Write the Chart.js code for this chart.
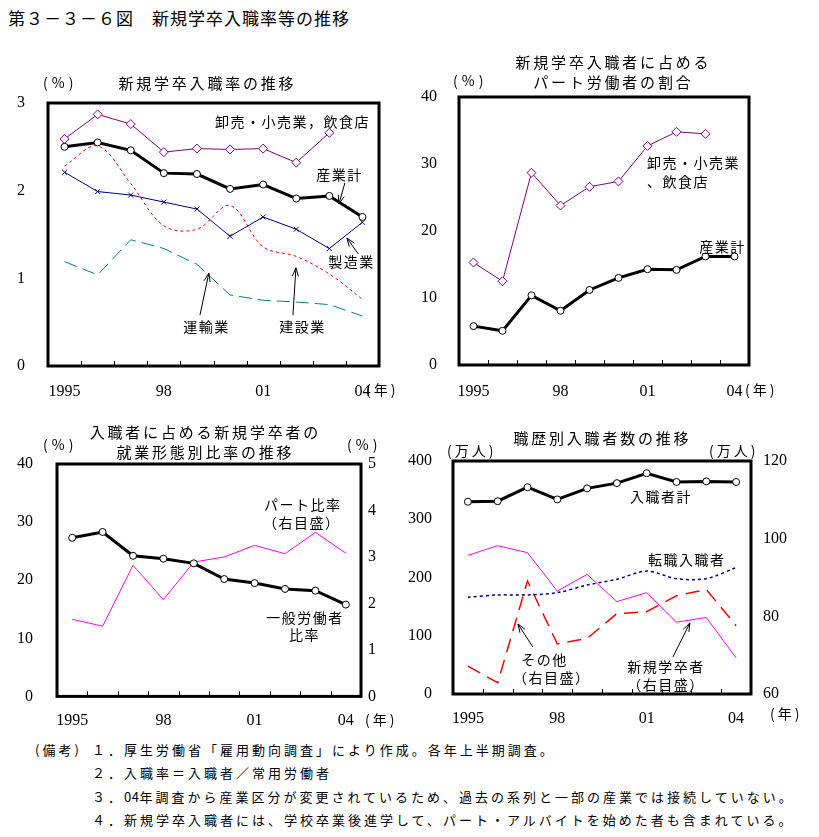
<!DOCTYPE html>
<html lang="ja">
<head>
<meta charset="utf-8">
<title>新規学卒入職率等の推移</title>
<script src="https://cdn.jsdelivr.net/npm/chart.js@4.4.1/dist/chart.umd.min.js"></script>
<style>
  body { margin: 0; background: #fff; }
  #page { position: relative; width: 819px; height: 837px; overflow: hidden; font-family: "Noto Sans CJK JP", sans-serif; color: #000; }
  canvas { position: absolute; }
  .t { position: absolute; white-space: nowrap; line-height: 1; }
  .c { transform: translateX(-50%); }
  .ttl { font-size: 15px; letter-spacing: 2.8px; padding-left: 2.8px; }
  .unit { font-size: 14px; letter-spacing: 3px; }
  .note { font-size: 13px; letter-spacing: 3px; }
  .tight { letter-spacing: 0.5px; }
</style>
</head>
<body>
<div id="page">
  <div class="t" style="left:8px;top:9px;font-size:17px;letter-spacing:1px">第３－３－６図　新規学卒入職率等の推移</div>

  <canvas id="c1" width="400" height="340" style="left:0;top:60px"></canvas>
  <canvas id="c2" width="419" height="350" style="left:400px;top:50px"></canvas>
  <canvas id="c3" width="400" height="320" style="left:0;top:410px"></canvas>
  <canvas id="c4" width="419" height="310" style="left:400px;top:420px"></canvas>

  <div class="t ttl c" style="left:206px;top:75px">新規学卒入職率の推移</div>
  <div class="t unit" style="left:43px;top:75px;letter-spacing:4px">(%)</div>
  <div class="t unit" style="left:366px;top:382px">(年)</div>

  <div class="t ttl c" style="left:612px;top:54px">新規学卒入職者に占める</div>
  <div class="t ttl c" style="left:612px;top:74px">パート労働者の割合</div>
  <div class="t unit" style="left:453px;top:73px;letter-spacing:4px">(%)</div>
  <div class="t unit" style="left:745px;top:382px">(年)</div>

  <div class="t ttl c" style="left:204px;top:424px">入職者に占める新規学卒者の</div>
  <div class="t ttl c" style="left:204px;top:444px">就業形態別比率の推移</div>
  <div class="t unit" style="left:43px;top:437px;letter-spacing:4px">(%)</div>
  <div class="t unit" style="left:347px;top:437px;letter-spacing:4px">(%)</div>
  <div class="t unit" style="left:365px;top:712px">(年)</div>

  <div class="t ttl c" style="left:601px;top:430px">職歴別入職者数の推移</div>
  <div class="t unit" style="left:447px;top:443px">(万人)</div>
  <div class="t unit" style="left:709px;top:443px">(万人)</div>
  <div class="t unit" style="left:770px;top:706px">(年)</div>

  <div class="t note" style="left:35px;top:743px">(備考)</div>
  <div class="t note" style="left:92px;top:743px">１．厚生労働省「雇用動向調査」により作成。各年上半期調査。</div>
  <div class="t note" style="left:92px;top:766px">２．入職率＝入職者／常用労働者</div>
  <div class="t note" style="left:92px;top:790px">３．<span class="tight">04</span>年調査から産業区分が変更されているため、過去の系列と一部の産業では接続していない。</div>
  <div class="t note" style="left:92px;top:813px">４．新規学卒入職者には、学校卒業後進学して、パート・アルバイトを始めた者も含まれている。</div>
</div>

<script>
// categories (1995-2004) and the tick labels that are printed
const years = ['1995', '1996', '1997', '1998', '1999', '2000', '2001', '2002', '2003', '2004'];
const tickLabels = ['1995', '', '', '98', '', '', '01', '', '', '04'];

// 新規学卒入職率の推移 (%)
const rateTotal     = [2.50, 2.55, 2.46, 2.20, 2.19, 2.02, 2.07, 1.91, 1.94, 1.70];
const rateTrade     = [2.59, 2.87, 2.76, 2.44, 2.48, 2.47, 2.48, 2.32, 2.66, null];
const rateMfg       = [2.21, 1.99, 1.95, 1.87, 1.79, 1.48, 1.70, 1.56, 1.34, 1.64];
const rateConst     = [2.28, 2.51, 2.08, 1.60, 1.56, 1.83, 1.36, 1.25, 1.05, 0.76];
const rateTransport = [1.19, 1.04, 1.44, 1.34, 1.16, 0.81, 0.75, 0.73, 0.70, 0.57];

// 新規学卒入職者に占めるパート労働者の割合 (%)
const partTotal = [5.8, 5.1, 10.4, 8.1, 11.2, 13.0, 14.3, 14.2, 16.2, 16.2];
const partTrade = [15.3, 12.5, 28.7, 23.8, 26.6, 27.4, 32.7, 34.8, 34.5, null];

// 入職者に占める新規学卒者の就業形態別比率 (%)
const generalShare = [27.3, 28.3, 24.2, 23.7, 22.9, 20.2, 19.5, 18.5, 18.2, 15.8];
const partShare    = [1.66, 1.51, 2.82, 2.08, 2.89, 3.00, 3.25, 3.07, 3.53, 3.08];

// 職歴別入職者数 (万人)
const hiresTotal  = [330, 331, 355, 334, 353, 362, 379, 364, 365, 364];
const jobChangers = [166, 170, 170, 174, 187, 197, 211, 198, 198, 217];
const newGrads    = [95.7, 98.2, 96.4, 86.5, 90.8, 83.8, 86.1, 78.5, 79.7, 69.3];
const others      = [67.2, 62.9, 89.1, 72.9, 74.3, 80.7, 81.2, 85.3, 86.9, 77.6];

const serif = '"Liberation Serif", "Times New Roman", serif';
Chart.defaults.font.family = serif;
Chart.defaults.font.size = 16;
Chart.defaults.color = '#000';
Chart.defaults.animation = false;

function drawArrow(ctx, x1, y1, x2, y2) {
  const ang = Math.atan2(y2 - y1, x2 - x1), h = 9;
  ctx.beginPath();
  ctx.moveTo(x1, y1);
  ctx.lineTo(x2, y2);
  ctx.moveTo(x2 - h * Math.cos(ang - 0.35), y2 - h * Math.sin(ang - 0.35));
  ctx.lineTo(x2, y2);
  ctx.lineTo(x2 - h * Math.cos(ang + 0.35), y2 - h * Math.sin(ang + 0.35));
  ctx.stroke();
}

// frame, small inner ticks and the labels / arrows placed in data space
const decor = {
  id: 'decor',
  afterDatasetsDraw(chart, args, opts) {
    const { ctx, chartArea: a, scales } = chart;
    const x = scales.x;
    ctx.save();
    ctx.strokeStyle = '#000';
    ctx.lineWidth = 1;
    for (let i = 1; i < years.length; i++) {
      const px = Math.round((x.getPixelForValue(i - 1) + x.getPixelForValue(i)) / 2) + 0.5;
      ctx.beginPath();
      ctx.moveTo(px, a.bottom);
      ctx.lineTo(px, a.bottom - 5);
      ctx.stroke();
    }
    ctx.lineWidth = 3;
    ctx.strokeRect(a.left, a.top, a.right - a.left, a.bottom - a.top);

    ctx.fillStyle = '#000';
    ctx.font = '14px "Noto Sans CJK JP"';
    ctx.textBaseline = 'middle';
    ctx.letterSpacing = '1.5px';
    (opts.labels || []).forEach(l => {
      ctx.textAlign = l.align || 'center';
      ctx.fillText(l.text, x.getPixelForValue(l.x), scales.y.getPixelForValue(l.y));
    });
    ctx.lineWidth = 1;
    (opts.arrows || []).forEach(r => {
      drawArrow(ctx,
        x.getPixelForValue(r[0]), scales.y.getPixelForValue(r[1]),
        x.getPixelForValue(r[2]), scales.y.getPixelForValue(r[3]));
    });
    ctx.restore();
  }
};

function xAxis(height, pad) {
  return {
    type: 'category',
    offset: true,
    grid: { display: false, drawTicks: false },
    border: { display: false },
    ticks: { autoSkip: false, maxRotation: 0, padding: pad, callback: (v, i) => tickLabels[i] },
    afterFit: s => { s.height = height; }
  };
}

function yAxis(pos, min, max, step, width, pad) {
  return {
    position: pos, min: min, max: max,
    grid: { display: false, drawTicks: false },
    border: { display: false },
    ticks: { stepSize: step, padding: pad },
    afterFit: s => { s.width = width; }
  };
}

function totalLine(data, axis) {
  return {
    data: data, yAxisID: axis || 'y',
    borderColor: '#000', borderWidth: 3,
    pointStyle: 'circle', pointRadius: 3.5,
    pointBackgroundColor: '#fff', pointBorderColor: '#000', pointBorderWidth: 1
  };
}

function thinLine(data, color, extra) {
  return Object.assign({
    data: data, borderColor: color, borderWidth: 1, pointRadius: 0
  }, extra || {});
}

function makeChart(id, padding, datasets, scales, notes) {
  return new Chart(document.getElementById(id), {
    type: 'line',
    data: { labels: years, datasets: datasets },
    options: {
      responsive: false,
      maintainAspectRatio: false,
      layout: { padding: padding },
      scales: scales,
      plugins: { legend: { display: false }, tooltip: { enabled: false }, decor: notes }
    },
    plugins: [decor]
  });
}

// 新規学卒入職率の推移
makeChart('c1', { left: 0, top: 43, right: 21, bottom: 0 }, [
  totalLine(rateTotal),
  thinLine(rateTrade, '#800080', { pointStyle: 'rectRot', pointRadius: 4.5, pointBackgroundColor: '#fff', pointBorderColor: '#800080' }),
  thinLine(rateMfg, '#000080', { pointStyle: 'crossRot', pointRadius: 3.5, pointBorderColor: '#000080' }),
  thinLine(rateConst, '#ff0000', { borderDash: [3, 3], tension: 0.35 }),
  thinLine(rateTransport, '#008080', { borderDash: [13, 6] })
], {
  x: xAxis(34, 16),
  y: yAxis('left', 0, 3, 1, 48, 23)
}, {
  labels: [
    { text: '卸売・小売業，飲食店', x: 6.89, y: 2.79 },
    { text: '産業計', x: 8.31, y: 2.18 },
    { text: '製造業', x: 8.67, y: 1.19 },
    { text: '運輸業', x: 4.29, y: 0.45 },
    { text: '建設業', x: 7.19, y: 0.45 }
  ],
  arrows: [
    [8.47, 2.09, 8.29, 1.85],
    [8.87, 1.28, 8.53, 1.46],
    [4.09, 0.58, 4.36, 1.06],
    [6.90, 0.58, 6.99, 1.12]
  ]
});

// 新規学卒入職者に占めるパート労働者の割合
makeChart('c2', { left: 0, top: 47, right: 70, bottom: 0 }, [
  totalLine(partTotal),
  thinLine(partTrade, '#800080', { pointStyle: 'rectRot', pointRadius: 4.5, pointBackgroundColor: '#fff', pointBorderColor: '#800080' })
], {
  x: xAxis(35, 17),
  y: yAxis('left', 0, 40, 10, 59, 22)
}, {
  labels: [
    { text: '卸売・小売業', x: 5.98, y: 30.15, align: 'left' },
    { text: '、飲食店', x: 5.98, y: 27.3, align: 'left' },
    { text: '産業計', x: 8.59, y: 17.6 }
  ]
});

// 入職者に占める新規学卒者の就業形態別比率の推移
makeChart('c3', { left: 0, top: 54, right: 0, bottom: 0 }, [
  totalLine(generalShare),
  thinLine(partShare, '#ff00ff', { yAxisID: 'y1' })
], {
  x: xAxis(33, 15),
  y: yAxis('left', 0, 40, 10, 57, 24),
  y1: yAxis('right', 0, 5, 1, 39, 7)
}, {
  labels: [
    { text: 'パート比率', x: 7.58, y: 32.96 },
    { text: '（右目盛）', x: 7.55, y: 29.87 },
    { text: '一般労働者', x: 7.66, y: 13.56 },
    { text: '比率', x: 7.64, y: 10.64 }
  ]
});

// 職歴別入職者数の推移
makeChart('c4', { left: 0, top: 41, right: 0, bottom: 0 }, [
  totalLine(hiresTotal),
  thinLine(jobChangers, '#000080', { borderDash: [3, 3], borderWidth: 1.5, tension: 0.3 }),
  thinLine(newGrads, '#ff00ff', { yAxisID: 'y1' }),
  thinLine(others, '#ff0000', { yAxisID: 'y1', borderDash: [14, 8], borderWidth: 1.5 })
], {
  x: xAxis(36, 15),
  y: yAxis('left', 0, 400, 100, 53, 21),
  y1: yAxis('right', 60, 120, 20, 68, 12)
}, {
  labels: [
    { text: '入職者計', x: 6.48, y: 338.7 },
    { text: '転職入職者', x: 7.34, y: 230 },
    { text: 'その他', x: 2.57, y: 58.4 },
    { text: '（右目盛）', x: 2.81, y: 27.5 },
    { text: '新規学卒者', x: 6.65, y: 46.4 },
    { text: '（右目盛）', x: 6.65, y: 15.5 }
  ],
  arrows: [
    [2.18, 80.7, 1.68, 120.2],
    [6.88, 63.5, 7.45, 121.9]
  ]
});
</script>
</body>
</html>
